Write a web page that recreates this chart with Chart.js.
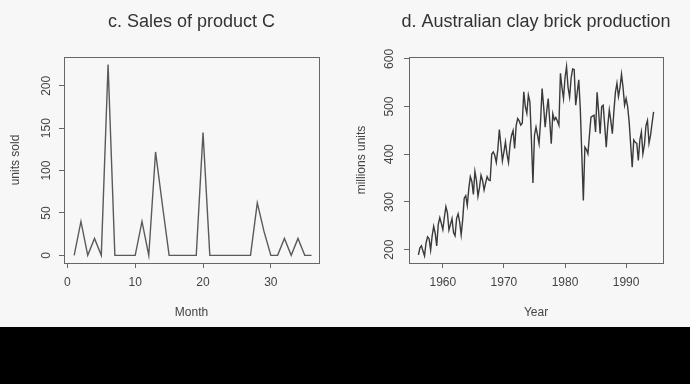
<!DOCTYPE html>
<html><head><meta charset="utf-8">
<script src="https://cdn.jsdelivr.net/npm/chart.js@4"></script>
<style>
html,body{margin:0;padding:0;background:#f7f7f7;width:690px;height:384px;overflow:hidden}
#wrap{position:relative;width:690px;height:384px}
canvas{position:absolute;top:0}
#cvC{left:0}
#cvD{left:345px}
#band{position:absolute;left:0;top:327px;width:690px;height:57px;background:#000}
</style></head><body>
<div id="wrap">
<canvas id="cvC" width="345" height="327" style="width:345px;height:327px"></canvas>
<canvas id="cvD" width="345" height="327" style="width:345px;height:327px"></canvas>
<div id="band"></div>
</div>
<script>
// ---- Panel c: Sales of product C ----
const monthsC = [1,2,3,4,5,6,7,8,9,10,11,12,13,14,15,16,17,18,19,20,21,22,23,24,25,26,27,28,29,30,31,32,33,34,35,36];
const salesC  = [0,40,0,20,0,225,0,0,0,0,40,0,122,60,0,0,0,0,0,145,0,0,0,0,0,0,0,62,28,0,0,20,0,20,0,0];
const xTicksC = [0,10,20,30];
const yTicksC = [0,50,100,150,200];

// ---- Panel d: Australian clay brick production (quarterly, 1956 Q1 - 1994 Q3) ----
const brickStartYear = 1956;
const bricks = [
  189,204,208,197, 187,214,227,223, 199,229,249,234, 208,253,267,255,
  242,268,290,277, 241,253,265,236, 229,265,275,258, 231,263,308,313,
  293,328,353,343, 316,364,345,312, 330,356,345,325, 340,353,346,345,
  400,405,398,383, 410,452,420,386, 405,426,400,383, 420,440,450,412,
  460,475,470,461, 465,531,500,486, 524,510,430,340, 440,457,440,422,
  470,538,500,457, 490,517,470,422, 485,472,477,470, 461,570,540,517,
  560,584,540,520, 560,579,578,503, 530,556,496,400, 303,415,410,401,
  440,478,480,482, 447,530,490,443, 500,503,460,415, 460,493,470,443,
  490,530,549,521, 540,568,540,503, 517,500,468,420, 373,430,425,423,
  387,430,447,401, 420,460,471,423, 440,465,489
];
const xTicksD = [1960,1970,1980,1990];
const yTicksD = [200,300,400,500,600];

const FONT = '"Liberation Sans", Arial, Helvetica, sans-serif';
const TXT = '#444';

const framePlugin = {
  id: 'frame',
  afterDraw(chart, args, opts) {
    const {ctx, chartArea: a} = chart;
    ctx.save();
    ctx.strokeStyle = '#666';
    ctx.lineWidth = 1;
    ctx.strokeRect(Math.round(a.left) + 0.5, Math.round(a.top) + 0.5,
                   Math.round(a.right - a.left), Math.round(a.bottom - a.top));
    ctx.fillStyle = '#333';
    ctx.font = '18px ' + FONT;
    ctx.textAlign = 'center';
    ctx.textBaseline = 'middle';
    ctx.fillText(opts.text, (a.left + a.right) / 2, opts.y);
    ctx.restore();
  }
};

function axis(opts) {
  const isX = opts.axis === 'x';
  return {
    type: 'linear',
    min: opts.min, max: opts.max,
    afterBuildTicks: s => { s.ticks = opts.ticks.map(v => ({value: v})); },
    afterFit: s => { if (isX) s.height = 64; else s.width = 64; },
    ticks: {
      color: TXT, font: {family: FONT, size: 12},
      padding: opts.pad,
      minRotation: isX ? 0 : 90, maxRotation: isX ? 0 : 90,
      crossAlign: isX ? 'near' : 'center',
      autoSkip: false,
      callback: v => String(v)
    },
    grid: {drawOnChartArea: false, drawTicks: true, tickLength: 5, tickColor: '#666', tickWidth: 1},
    border: {display: false},
    title: {
      display: true, text: opts.title, color: TXT,
      font: {family: FONT, size: 12},
      padding: isX ? {top: 0, bottom: 7} : {top: opts.tpad, bottom: 0}
    }
  };
}

function makeChart(id, points, lineColor, xs, ys, title, padRight) {
  return new Chart(document.getElementById(id), {
    type: 'line',
    data: {datasets: [{data: points, borderColor: lineColor, borderWidth: 1.4,
                       pointRadius: 0, tension: 0, fill: false}]},
    options: {
      responsive: false, animation: false,
      layout: {padding: {top: 57, left: 0, right: padRight, bottom: 0}},
      plugins: {legend: {display: false}, tooltip: {enabled: false},
                frame: {text: title, y: 22}},
      scales: {x: xs, y: ys}
    },
    plugins: [framePlugin]
  });
}

makeChart('cvC',
  monthsC.map((m, i) => ({x: m, y: salesC[i]})),
  '#5a5a5a',
  axis({axis: 'x', min: -0.5, max: 37.1, ticks: xTicksC, pad: 7, title: 'Month'}),
  axis({axis: 'y', min: -9, max: 234, ticks: yTicksC, pad: 2.5, title: 'units sold', tpad: 8}),
  'c. Sales of product C', 26);

makeChart('cvD',
  bricks.map((v, i) => ({x: brickStartYear + i / 4, y: v})),
  '#3a3a3a',
  axis({axis: 'x', min: 1954.46, max: 1996.04, ticks: xTicksD, pad: 7, title: 'Year'}),
  axis({axis: 'y', min: 172, max: 604, ticks: yTicksD, pad: 4, title: 'millions units', tpad: 9}),
  'd. Australian clay brick production', 27);
</script>
</body></html>
